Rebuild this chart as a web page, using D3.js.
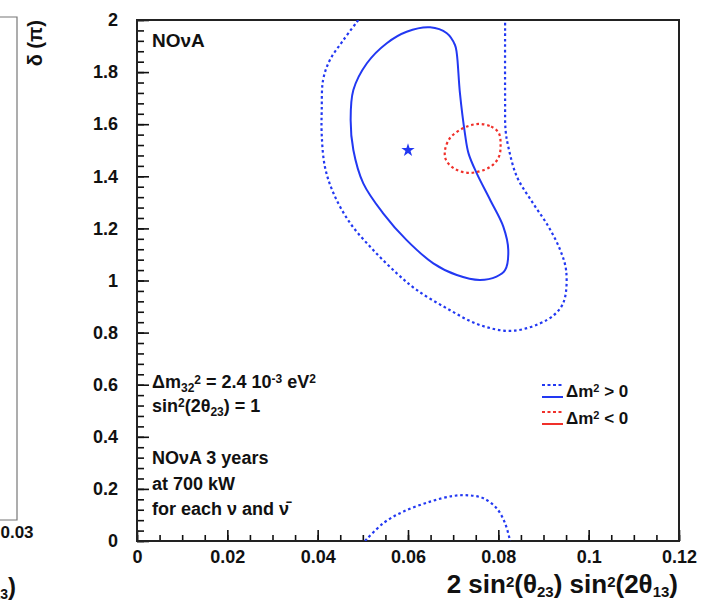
<!DOCTYPE html>
<html>
<head>
<meta charset="utf-8">
<script src="https://cdn.jsdelivr.net/npm/d3@7"></script>
<style>
  body { margin: 0; background: #fff; }
  svg { display: block; }
  text { font-family: "Liberation Sans", Arial, Helvetica, sans-serif; fill: #111; }
</style>
</head>
<body>
<svg id="chart" width="711" height="603"></svg>
<script>
// ---- axis ticks ----
const xTickValues = [0, 0.02, 0.04, 0.06, 0.08, 0.1, 0.12];
const xTickLabels = ["0", "0.02", "0.04", "0.06", "0.08", "0.1", "0.12"];
const yTickValues = [0, 0.2, 0.4, 0.6, 0.8, 1, 1.2, 1.4, 1.6, 1.8, 2];
const yTickLabels = ["0", "0.2", "0.4", "0.6", "0.8", "1", "1.2", "1.4", "1.6", "1.8", "2"];

// ---- contours: [2 sin^2(th23) sin^2(2th13), delta/pi] ----
// normal hierarchy, inner (solid) contour
const normalInner = [
  [0.0649, 1.972], [0.0686, 1.949], [0.0704, 1.904], [0.0708, 1.872],
  [0.0715, 1.719], [0.0726, 1.565], [0.0734, 1.488], [0.0752, 1.412],
  [0.0782, 1.309], [0.0811, 1.207], [0.0822, 1.117], [0.0815, 1.040],
  [0.0796, 1.015], [0.0759, 1.002], [0.0708, 1.021], [0.0656, 1.066],
  [0.0597, 1.155], [0.0545, 1.258], [0.0501, 1.373], [0.0479, 1.501],
  [0.0473, 1.616], [0.0479, 1.731], [0.0509, 1.834], [0.0553, 1.911],
  [0.0597, 1.955]
];
// normal hierarchy, outer (dashed) contour, upper band
const normalOuterUpper = [
  [0.0490, 2.000], [0.0457, 1.923], [0.0427, 1.846], [0.0412, 1.770],
  [0.0409, 1.655], [0.0409, 1.559], [0.0416, 1.437], [0.0435, 1.335],
  [0.0472, 1.220], [0.0523, 1.117], [0.0575, 1.028], [0.0619, 0.964],
  [0.0686, 0.893], [0.0759, 0.829], [0.0833, 0.807], [0.0907, 0.848],
  [0.0937, 0.893], [0.0948, 0.938], [0.0950, 1.040], [0.0937, 1.117],
  [0.0911, 1.207], [0.0877, 1.296], [0.0841, 1.399], [0.0822, 1.514],
  [0.0816, 1.578], [0.0815, 1.693], [0.0815, 2.000]
];
// normal hierarchy, outer (dashed) contour, lower band
const normalOuterLower = [
  [0.0505, 0.000], [0.0545, 0.068], [0.0590, 0.113], [0.0649, 0.151],
  [0.0700, 0.173], [0.0737, 0.175], [0.0767, 0.164], [0.0796, 0.126],
  [0.0815, 0.068], [0.0826, 0.000]
];
// inverted hierarchy, outer (dashed) contour
const invertedOuter = [
  [0.0759, 1.601], [0.0784, 1.591], [0.0801, 1.566], [0.0805, 1.520],
  [0.0801, 1.474], [0.0782, 1.436], [0.0737, 1.413], [0.0704, 1.428],
  [0.0684, 1.463], [0.0682, 1.501], [0.0693, 1.547], [0.0715, 1.578],
  [0.0737, 1.595]
];
const bestFit = [0.06, 1.5];

const blue = "#2238f2";
const red = "#f0302a";

const legendItems = [
  { label: "\u0394m", op: " > 0", color: blue },
  { label: "\u0394m", op: " < 0", color: red }
];

const svg = d3.select("#chart");
const M = { left: 137, right: 679, top: 20, bottom: 541 };

const x = d3.scaleLinear().domain([0, 0.12]).range([M.left, M.right]);
const y = d3.scaleLinear().domain([0, 2]).range([M.bottom, M.top]);

// ---- neighbouring panel (left edge) ----
const side = svg.append("g");
side.append("path")
  .attr("d", "M-2,17 L17,17 L17,520 L-2,520")
  .attr("fill", "none").attr("stroke", "#777").attr("stroke-width", 1.2);
side.append("text").attr("x", 17).attr("y", 532).attr("dy", "0.35em")
  .attr("text-anchor", "middle").style("font-size", "17px").style("font-weight", "bold")
  .text("0.03");
const sideTitle = side.append("text").attr("x", 16).attr("y", 595)
  .attr("text-anchor", "end").style("font-size", "24px").style("font-weight", "bold");
sideTitle.append("tspan").attr("baseline-shift", "-25%").style("font-size", "14px").text("13");
sideTitle.append("tspan").text(")");

// ---- minor/major ticks (pointing inward) ----
const xMinor = d3.range(0, 0.12001, 0.005);
const yMinor = d3.range(0, 2.0001, 0.04);

svg.append("g").attr("transform", `translate(0,${M.bottom})`)
  .call(d3.axisBottom(x).tickValues(xMinor).tickSize(-6).tickFormat(""))
  .call(g => g.select(".domain").remove())
  .call(g => g.selectAll("line").attr("stroke", "#111").attr("stroke-width", 1.6));
svg.append("g").attr("transform", `translate(${M.left},0)`)
  .call(d3.axisLeft(y).tickValues(yMinor).tickSize(-7).tickFormat(""))
  .call(g => g.select(".domain").remove())
  .call(g => g.selectAll("line").attr("stroke", "#111").attr("stroke-width", 1.6));

const xAxis = svg.append("g").attr("transform", `translate(0,${M.bottom})`)
  .call(d3.axisBottom(x).tickValues(xTickValues).tickSize(-11).tickPadding(9)
    .tickFormat((d, i) => xTickLabels[i]));
xAxis.select(".domain").remove();
xAxis.selectAll("line").attr("stroke", "#111").attr("stroke-width", 1.6);
xAxis.selectAll("text").attr("fill", "#111").style("font-size", "18px").style("font-weight", "bold")
  .style("font-family", "'Liberation Sans', Arial, sans-serif");

const yAxis = svg.append("g").attr("transform", `translate(${M.left},0)`)
  .call(d3.axisLeft(y).tickValues(yTickValues).tickSize(-12).tickPadding(19)
    .tickFormat((d, i) => yTickLabels[i]));
yAxis.select(".domain").remove();
yAxis.selectAll("line").attr("stroke", "#111").attr("stroke-width", 1.6);
yAxis.selectAll("text").attr("fill", "#111").style("font-size", "18px").style("font-weight", "bold")
  .style("font-family", "'Liberation Sans', Arial, sans-serif");

// ---- frame ----
svg.append("rect")
  .attr("x", M.left).attr("y", M.top)
  .attr("width", M.right - M.left).attr("height", M.bottom - M.top)
  .attr("fill", "none").attr("stroke", "#222").attr("stroke-width", 2);

// ---- axis titles ----
const yTitle = svg.append("text")
  .attr("transform", `translate(42,${M.top}) rotate(-90)`)
  .attr("text-anchor", "end").style("font-size", "20px").style("font-weight", "bold");
yTitle.text("\u03B4 (\u03C0)");

const xTitle = svg.append("text").attr("x", 678).attr("y", 593)
  .attr("text-anchor", "end").style("font-size", "26px").style("font-weight", "bold");
xTitle.append("tspan").text("2 sin");
xTitle.append("tspan").attr("baseline-shift", "40%").style("font-size", "15px").text("2");
xTitle.append("tspan").text("(\u03B8");
xTitle.append("tspan").attr("baseline-shift", "-25%").style("font-size", "15px").text("23");
xTitle.append("tspan").text(") sin");
xTitle.append("tspan").attr("baseline-shift", "40%").style("font-size", "15px").text("2");
xTitle.append("tspan").text("(2\u03B8");
xTitle.append("tspan").attr("baseline-shift", "-25%").style("font-size", "15px").text("13");
xTitle.append("tspan").text(")");

// ---- contours ----
const plot = svg.append("g");
svg.append("clipPath").attr("id", "frameClip").append("rect")
  .attr("x", M.left).attr("y", M.top).attr("width", M.right - M.left).attr("height", M.bottom - M.top);
plot.attr("clip-path", "url(#frameClip)");

const openLine = d3.line().x(d => x(d[0])).y(d => y(d[1])).curve(d3.curveCatmullRom.alpha(0.5));
const closedLine = d3.line().x(d => x(d[0])).y(d => y(d[1])).curve(d3.curveCatmullRomClosed.alpha(0.5));
const dash = "2.6,2.8";

plot.append("path").attr("d", openLine(normalOuterUpper))
  .attr("fill", "none").attr("stroke", blue).attr("stroke-width", 2.2).attr("stroke-dasharray", dash);
plot.append("path").attr("d", openLine(normalOuterLower))
  .attr("fill", "none").attr("stroke", blue).attr("stroke-width", 2.2).attr("stroke-dasharray", dash);
plot.append("path").attr("d", closedLine(normalInner))
  .attr("fill", "none").attr("stroke", blue).attr("stroke-width", 2);
plot.append("path").attr("d", closedLine(invertedOuter))
  .attr("fill", "none").attr("stroke", red).attr("stroke-width", 2.2).attr("stroke-dasharray", dash);

plot.append("path")
  .attr("d", d3.symbol().type(d3.symbolStar).size(55)())
  .attr("transform", `translate(${x(bestFit[0])},${y(bestFit[1])})`)
  .attr("fill", blue);

// ---- annotations ----
const note = svg.append("g").style("font-size", "18px").style("font-weight", "bold");
note.append("text").attr("x", 152).attr("y", 47).style("font-size", "19px").text("NO\u03BDA");

const l1 = note.append("text").attr("x", 152).attr("y", 388);
l1.append("tspan").text("\u0394m");
l1.append("tspan").attr("baseline-shift", "-30%").style("font-size", "12px").text("32");
l1.append("tspan").attr("baseline-shift", "35%").style("font-size", "12px").text("2");
l1.append("tspan").text(" = 2.4 10");
l1.append("tspan").attr("baseline-shift", "45%").style("font-size", "12px").text("-3");
l1.append("tspan").text(" eV");
l1.append("tspan").attr("baseline-shift", "45%").style("font-size", "12px").text("2");

const l2 = note.append("text").attr("x", 152).attr("y", 412);
l2.append("tspan").text("sin");
l2.append("tspan").attr("baseline-shift", "45%").style("font-size", "12px").text("2");
l2.append("tspan").text("(2\u03B8");
l2.append("tspan").attr("baseline-shift", "-30%").style("font-size", "12px").text("23");
l2.append("tspan").text(") = 1");

note.append("text").attr("x", 152).attr("y", 464).text("NO\u03BDA 3 years");
note.append("text").attr("x", 152).attr("y", 490).text("at 700 kW");
note.append("text").attr("x", 152).attr("y", 515).text("for each \u03BD and \u03BD\u0304");

// ---- legend ----
const leg = svg.append("g");
legendItems.forEach((item, i) => {
  const y0 = 385 + i * 27;
  leg.append("line").attr("x1", 542).attr("x2", 563).attr("y1", y0).attr("y2", y0)
    .attr("stroke", item.color).attr("stroke-width", 2).attr("stroke-dasharray", "3,2.5");
  leg.append("line").attr("x1", 542).attr("x2", 563).attr("y1", y0 + 12).attr("y2", y0 + 12)
    .attr("stroke", item.color).attr("stroke-width", 2);
  const t = leg.append("text").attr("x", 566).attr("y", y0 + 12)
    .style("font-size", "17px").style("font-weight", "bold");
  t.append("tspan").text(item.label);
  t.append("tspan").attr("baseline-shift", "45%").style("font-size", "11px").text("2");
  t.append("tspan").text(item.op);
});
</script>
</body>
</html>
